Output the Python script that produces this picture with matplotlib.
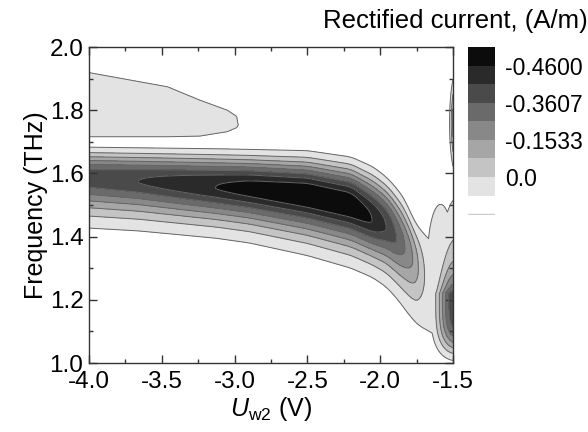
import numpy as np
import matplotlib
matplotlib.use("Agg")
import matplotlib.pyplot as plt

plt.rcParams['font.family'] = ['Liberation Sans', 'DejaVu Sans']
plt.rcParams['axes.unicode_minus'] = False
plt.rcParams['mathtext.fontset'] = 'custom'
plt.rcParams['mathtext.rm'] = 'Liberation Sans'
plt.rcParams['mathtext.it'] = 'Liberation Sans:italic'

# main resonance ridge (U in V, f in THz, depth in contour levels)
u_ridge = [-4.0, -3.66, -3.13, -2.9, -2.5, -2.2, -2.05, -1.956, -1.887, -1.83, -1.772, -1.738, -1.704, -1.66, -1.5]
ridge_center = [1.58, 1.572, 1.553, 1.545, 1.522, 1.49, 1.447, 1.426, 1.389, 1.358, 1.32, 1.289, 1.273, 1.25, 1.17]
ridge_depth = [6.6, 7.0, 8.0, 8.5, 9.0, 8.9, 8.0, 7.0, 6.0, 5.0, 4.0, 3.0, 2.0, 1.5, 1.1]
ridge_top = [1.683, 1.681, 1.678, 1.676, 1.672, 1.652, 1.621, 1.588, 1.553, 1.517, 1.455, 1.43, 1.41, 1.39, 1.32]
ridge_bottom = [1.427, 1.418, 1.395, 1.38, 1.34, 1.30, 1.27, 1.24, 1.205, 1.17, 1.135, 1.12, 1.11, 1.10, 1.05]

# weak upper lobe (outer level only)
u_lobe = [-4.0, -3.46, -3.24, -3.05, -2.985, -2.975]
lobe_top = [1.919, 1.874, 1.832, 1.80, 1.78, 1.753]
lobe_bottom = [1.716, 1.716, 1.718, 1.732, 1.745, 1.753]

# spots at the right edge: depth, U centre, U width, f centre, f width up, f width down
edge_low = [7.0, -1.48, 0.124, 1.22, 0.13, 0.18]
edge_bump = [1.5, -1.585, 0.14, 1.33, 0.27, 0.27]
edge_high = [6.0, -1.47, 0.04, 1.76, 0.124, 0.124]

levels = [1, 2, 3, 4, 5, 6, 7, 8, 1000]
grays = ['#e3e3e3', '#c4c4c4', '#a6a6a6', '#888888', '#6a6a6a', '#4a4a4a', '#2a2a2a', '#0c0c0c']
cbar_labels = ['-0.4600', '-0.3607', '-0.1533', '0.0']

u = np.linspace(-4.0, -1.5, 700)
f = np.linspace(1.0, 2.0, 700)
U, F = np.meshgrid(u, f)


def smooth(a, n=21):
    k = np.ones(n) / n
    return np.convolve(np.pad(a, n // 2, mode='edge'), k, mode='valid')


c = smooth(np.interp(u, u_ridge, ridge_center))
A = smooth(np.interp(u, u_ridge, ridge_depth))
top = smooth(np.interp(u, u_ridge, ridge_top))
bot = smooth(np.interp(u, u_ridge, ridge_bottom))
lnA = np.log(A)
wu = (top - c) / lnA ** (1 / 2.5)
wl = (c - bot) / lnA ** (1 / 1.6)
x = F - c
D_ridge = A * np.where(x > 0, np.exp(-(np.abs(x) / wu) ** 2.5), np.exp(-(np.abs(x) / wl) ** 1.6))

lc = np.interp(u, u_lobe, (np.array(lobe_top) + np.array(lobe_bottom)) / 2)
lh = np.clip(np.interp(u, u_lobe, (np.array(lobe_top) - np.array(lobe_bottom)) / 2), 1e-3, None)
D_lobe = np.where(U <= u_lobe[-1], 1.6 - 0.6 * ((F - lc) / lh) ** 2, 0)


def spot(p, up_exp=2.0, dn_exp=2.0):
    B, u0, su, f0, sup, sdn = p
    d = F - f0
    gf = np.where(d > 0, (np.abs(d) / sup) ** up_exp, (np.abs(d) / sdn) ** dn_exp)
    return B * np.exp(-((U - u0) / su) ** 2 - gf)


D = np.maximum.reduce([D_ridge, D_lobe, spot(edge_low, 0.8, 4.0), spot(edge_bump), spot(edge_high)])

fig = plt.figure(figsize=(5.88, 4.32), dpi=100)
ax = fig.add_axes([89 / 588, 69 / 432, 364 / 588, 316 / 432])
ax.contourf(U, F, D, levels=levels, colors=grays)
ax.contour(U, F, D, levels=levels[:-1], colors='#666666', linewidths=0.7)

ax.set_xlim(-4.0, -1.5)
ax.set_ylim(1.0, 2.0)
ax.set_xticks(np.arange(-4.0, -1.49, 0.5))
ax.set_xticks(np.arange(-4.0, -1.49, 0.25), minor=True)
ax.set_yticks(np.arange(1.0, 2.01, 0.2))
ax.set_yticks(np.arange(1.0, 2.01, 0.1), minor=True)
ax.set_xticklabels(['%.1f' % v for v in np.arange(-4.0, -1.49, 0.5)])
ax.set_yticklabels(['%.1f' % v for v in np.arange(1.0, 2.01, 0.2)])
ax.tick_params(which='both', direction='in', top=True, right=True, color='#333333', width=1)
ax.tick_params(which='major', length=6, labelsize=17.5)
ax.tick_params(axis='x', which='major', pad=6)
ax.tick_params(axis='y', which='major', pad=4)
ax.tick_params(which='minor', length=3)
for s in ax.spines.values():
    s.set_color('#333333')
    s.set_linewidth(1.0)
ax.set_xlabel(r'$U_{\rm w2}$ (V)', fontsize=18, labelpad=1)
ax.set_ylabel('Frequency (THz)', fontsize=18, labelpad=1)

# stepped legend in the style of the original
cax = fig.add_axes([468 / 588, 217 / 432, 27 / 588, 168 / 432])
sw = grays[::-1] + ['white']
cax.barh(np.arange(len(sw)) + 0.5, 1, height=1, color=sw, edgecolor='none')
cax.axhline(9, color='#cccccc', lw=1)
cax.set_xlim(0, 1)
cax.set_ylim(9.05, 0)
for s in cax.spines.values():
    s.set_visible(False)
cax.set_xticks([])
cax.yaxis.tick_right()
cax.set_yticks([1, 3, 5, 7])
cax.set_yticklabels(cbar_labels)
cax.tick_params(axis='y', length=0, pad=7.5, labelsize=16.5)

fig.text(0.999, 0.951, 'Rectified current, (A/m)', ha='right', va='center', fontsize=18.5)

fig.savefig('out.png', dpi=100)
